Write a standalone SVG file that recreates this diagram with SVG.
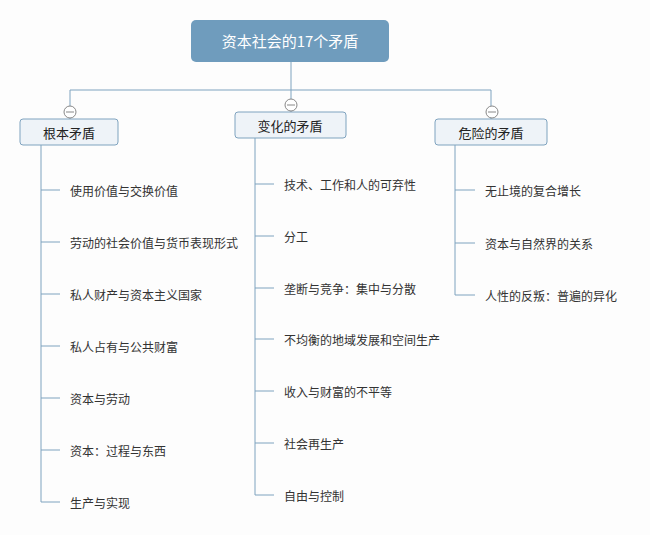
<svg xmlns="http://www.w3.org/2000/svg" width="650" height="535" viewBox="0 0 650 535">
<style>
.ln{stroke:#7fa3bf;stroke-width:1;fill:none}
.box{fill:#eef3f8;stroke:#7fa3bf;stroke-width:1}
.c{fill:#fff;stroke:#888;stroke-width:1}
.t{font-family:"Noto Sans CJK SC",sans-serif;font-size:12px;fill:#333;dominant-baseline:central}
.h{font-family:"Noto Sans CJK SC",sans-serif;font-size:13px;fill:#222;dominant-baseline:central;text-anchor:middle}
</style>
<rect width="650" height="535" fill="#fdfdfd"/>
<g id="connectors">
<path class="ln" d="M291 62V90M70 90H491M70 90V119M291 90V112M491 90V119"/>
<path class="ln" d="M41 145V502M41 190H60M41 242H60M41 294H60M41 346H60M41 398H60M41 450H60M41 502H60"/>
<path class="ln" d="M255 138V495M255 184H274M255 236H274M255 288H274M255 339H274M255 391H274M255 443H274M255 495H274"/>
<path class="ln" d="M455 145V295M455 190H475M455 243H475M455 295H475"/>
</g>
<g id="root"><rect x="191" y="20" width="198" height="42" rx="5" fill="#6f9cbd"/><text x="290" y="40" text-anchor="middle" dominant-baseline="central" font-family="Noto Sans CJK SC,sans-serif" font-size="15" fill="#fff">资本社会的17个矛盾</text></g>
<g id="n1"><rect class="box" x="20" y="119" width="98" height="26" rx="3"/><text class="h" x="69" y="132">根本矛盾</text><circle class="c" cx="70" cy="112" r="6"/><path d="M66 112H74" stroke="#888"/></g>
<g id="n2"><rect class="box" x="235" y="112" width="111" height="26" rx="3"/><text class="h" x="290" y="125">变化的矛盾</text><circle class="c" cx="291" cy="105" r="6"/><path d="M287 105H295" stroke="#888"/></g>
<g id="n3"><rect class="box" x="435" y="119" width="112" height="26" rx="3"/><text class="h" x="491" y="132">危险的矛盾</text><circle class="c" cx="492" cy="112" r="6"/><path d="M488 112H496" stroke="#888"/></g>
<g id="leaves1">
<text class="t" x="70" y="190">使用价值与交换价值</text>
<text class="t" x="70" y="242">劳动的社会价值与货币表现形式</text>
<text class="t" x="70" y="294">私人财产与资本主义国家</text>
<text class="t" x="70" y="346">私人占有与公共财富</text>
<text class="t" x="70" y="398">资本与劳动</text>
<text class="t" x="70" y="450">资本：过程与东西</text>
<text class="t" x="70" y="502">生产与实现</text>
</g>
<g id="leaves2">
<text class="t" x="284" y="184">技术、工作和人的可弃性</text>
<text class="t" x="284" y="236">分工</text>
<text class="t" x="284" y="288">垄断与竞争：集中与分散</text>
<text class="t" x="284" y="339">不均衡的地域发展和空间生产</text>
<text class="t" x="284" y="391">收入与财富的不平等</text>
<text class="t" x="284" y="443">社会再生产</text>
<text class="t" x="284" y="495">自由与控制</text>
</g>
<g id="leaves3">
<text class="t" x="485" y="190">无止境的复合增长</text>
<text class="t" x="485" y="243">资本与自然界的关系</text>
<text class="t" x="485" y="295">人性的反叛：普遍的异化</text>
</g>
</svg>
